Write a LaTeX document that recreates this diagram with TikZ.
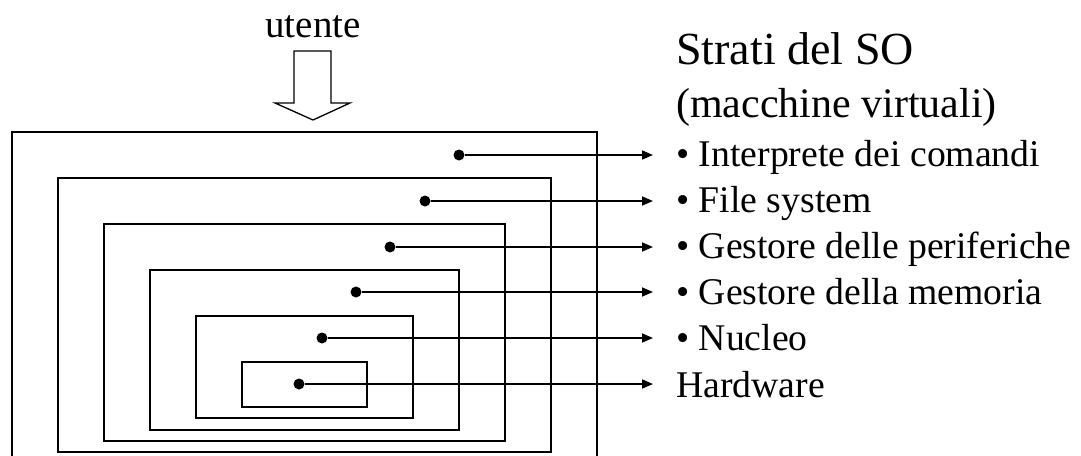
\documentclass[tikz,border=0pt]{standalone}
\usepackage{fontspec}
\setmainfont{Liberation Serif}
\usetikzlibrary{arrows.meta}

\tikzset{
  layer/.style={line width=1.3pt},
  dot/.style={circle,fill=black,inner sep=0pt,minimum size=11pt},
  link/.style={line width=1.6pt,-{Triangle[length=11pt,width=9pt]}},
  item/.style={anchor=base west,inner sep=0pt,font=\fontsize{37.7}{40}\selectfont},
}

\begin{document}
\begin{tikzpicture}[x=1pt,y=-1pt]
\path[use as bounding box] (0,0) rectangle (1081,455);
\clip (0,0) rectangle (1081,455);
% user on top, block arrow pointing down into the layers
\node[anchor=base,inner sep=0pt,font=\fontsize{39}{42}\selectfont] (user) at (313,37) {utente};
\draw[layer] (294,51) -- (331,51) -- (331,103) -- (350,103) -- (313,120)
  -- (275,103) -- (294,103) -- cycle;
% nested layers, outermost first
\draw[layer] (12,132) rectangle (597,464);
\draw[layer] (58,178) rectangle (551,452);
\draw[layer] (104,224) rectangle (505,441);
\draw[layer] (150,270) rectangle (459,430);
\draw[layer] (196,316) rectangle (413,418);
\draw[layer] (242,362) rectangle (367,407);
% one dot per layer
\node[dot] (d1) at (459,155) {};
\node[dot] (d2) at (425,201) {};
\node[dot] (d3) at (390,247) {};
\node[dot] (d4) at (356,292) {};
\node[dot] (d5) at (322,338) {};
\node[dot] (d6) at (299,384) {};
% arrow tips
\coordinate (t1) at (653,155);
\coordinate (t2) at (653,201);
\coordinate (t3) at (653,247);
\coordinate (t4) at (653,292);
\coordinate (t5) at (653,338);
\coordinate (t6) at (653,384);
\draw[link] (d1) -- (t1);
\draw[link] (d2) -- (t2);
\draw[link] (d3) -- (t3);
\draw[link] (d4) -- (t4);
\draw[link] (d5) -- (t5);
\draw[link] (d6) -- (t6);
% legend
\node[item,font=\fontsize{46}{50}\selectfont] (title) at (676,64) {Strati del SO};
\node[item,font=\fontsize{42}{46}\selectfont] (sub) at (676,117) {(macchine virtuali)};
\node[item] (l1) at (676,166) {• Interprete dei comandi};
\node[item] (l2) at (676,212) {• File system};
\node[item] (l3) at (676,258) {• Gestore delle periferiche};
\node[item] (l4) at (676,304) {• Gestore della memoria};
\node[item] (l5) at (676,350) {• Nucleo};
\node[item] (l6) at (676,397) {Hardware};
\end{tikzpicture}
\end{document}
